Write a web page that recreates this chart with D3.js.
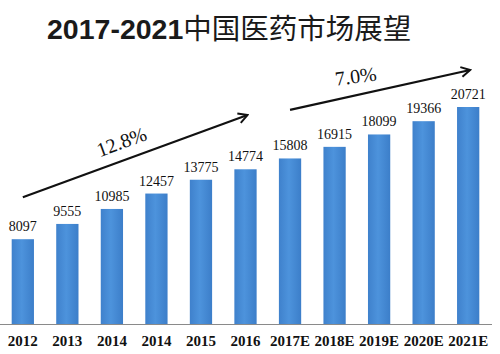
<!DOCTYPE html>
<html>
<head>
<meta charset="UTF-8">
<script src="https://d3js.org/d3.v7.min.js"></script>
<style>
  body { margin: 0; background: #fff; }
  .serif { font-family: "Liberation Serif", "DejaVu Serif", serif; }
</style>
</head>
<body>
<svg id="canvas"></svg>
<script>
  width = 500;
  height = 354;

  // data
  years = ["2012", "2013", "2014", "2014", "2015", "2016", "2017E", "2018E", "2019E", "2020E", "2021E"];
  values = [8097, 9555, 10985, 12457, 13775, 14774, 15808, 16915, 18099, 19366, 20721];
  // growth arrows: start/end bar index and value level, label
  arrowFrom = [0, 6];
  arrowTo = [5, 10];
  arrowV0 = [12100, 20450];
  arrowV1 = [19950, 24250];
  arrowText = ["12.8%", "7.0%"];

  svg = d3.select("#canvas").attr("width", width).attr("height", height);

  defs = svg.append("defs");
  grad = defs.append("linearGradient").attr("id", "barGrad")
      .attr("x1", 0).attr("y1", 0).attr("x2", 1).attr("y2", 0);
  grad.append("stop").attr("offset", "0%").attr("stop-color", "#3f81cc");
  grad.append("stop").attr("offset", "45%").attr("stop-color", "#4d93dc");
  grad.append("stop").attr("offset", "100%").attr("stop-color", "#3c7ec9");

  x = d3.scaleBand()
      .domain(d3.range(years.length))
      .range([1, 490])
      .paddingInner(0.5)
      .paddingOuter(0.24);

  y = d3.scaleLinear()
      .domain([0, 20721])
      .range([324, 107]);

  // title
  title = svg.append("text")
      .attr("x", 47).attr("y", 39)
      .attr("fill", "#1a1a1a");
  title.append("tspan")
      .style("font-family", "'Liberation Sans', Arial, sans-serif")
      .attr("font-weight", "bold")
      .attr("font-size", 28.5)
      .text("2017-2021");
  title.append("tspan")
      .style("font-family", "'Noto Sans CJK SC', sans-serif")
      .attr("font-size", 28.5)
      .text("中国医药市场展望");

  // bars
  svg.selectAll("rect.bar")
      .data(values)
      .enter().append("rect")
      .attr("class", "bar")
      .attr("x", (d, i) => x(i))
      .attr("width", x.bandwidth())
      .attr("y", (d) => y(d))
      .attr("height", (d) => y(0) - y(d))
      .attr("fill", "url(#barGrad)");

  // value labels
  svg.selectAll("text.val")
      .data(values)
      .enter().append("text")
      .attr("class", "val serif")
      .attr("x", (d, i) => x(i) + x.bandwidth() / 2)
      .attr("y", (d) => y(d) - 8)
      .attr("text-anchor", "middle")
      .attr("font-size", 14)
      .attr("fill", "#111")
      .text((d) => d);

  // x axis
  xAxis = svg.append("g")
      .attr("transform", "translate(0," + y(0) + ")")
      .call(d3.axisBottom(x).tickSize(0).tickPadding(11).tickFormat((i) => years[i]));
  xAxis.attr("font-family", null);
  xAxis.select(".domain").attr("stroke", "#8a8a8a").attr("stroke-width", 1.2)
      .attr("d", "M0,0.5H492");
  xAxis.selectAll("text")
      .attr("class", "serif")
      .attr("font-weight", "bold")
      .attr("font-size", 15)
      .attr("fill", "#111");

  // growth arrows
  defs.append("marker")
      .attr("id", "head")
      .attr("viewBox", "0 0 12 12")
      .attr("refX", 10).attr("refY", 6)
      .attr("markerWidth", 12).attr("markerHeight", 12)
      .attr("markerUnits", "userSpaceOnUse")
      .attr("orient", "auto")
    .append("path")
      .attr("d", "M1,1 L10,6 L1,11")
      .attr("fill", "none")
      .attr("stroke", "#111")
      .attr("stroke-width", 2);

  arrowText.forEach(function (t, k) {
      var x0 = x(arrowFrom[k]) + x.bandwidth() / 2,
          x1 = x(arrowTo[k]) + x.bandwidth() / 2 + 2,
          y0 = y(arrowV0[k]),
          y1 = y(arrowV1[k]);
      svg.append("line")
          .attr("x1", x0).attr("y1", y0)
          .attr("x2", x1).attr("y2", y1)
          .attr("stroke", "#111")
          .attr("stroke-width", 2.2)
          .attr("marker-end", "url(#head)");
      var ang = Math.atan2(y1 - y0, x1 - x0) * 180 / Math.PI;
      var mx = x0 + (x1 - x0) * (k == 0 ? 0.45 : 0.37),
          my = y0 + (y1 - y0) * (k == 0 ? 0.45 : 0.37) - 12;
      svg.append("text")
          .attr("class", "serif")
          .attr("transform", "translate(" + mx + "," + my + ") rotate(" + (k == 0 ? ang : ang * 0.6) + ")")
          .attr("text-anchor", "middle")
          .attr("font-size", 20)
          .attr("fill", "#111")
          .text(t);
  });
</script>
</body>
</html>
